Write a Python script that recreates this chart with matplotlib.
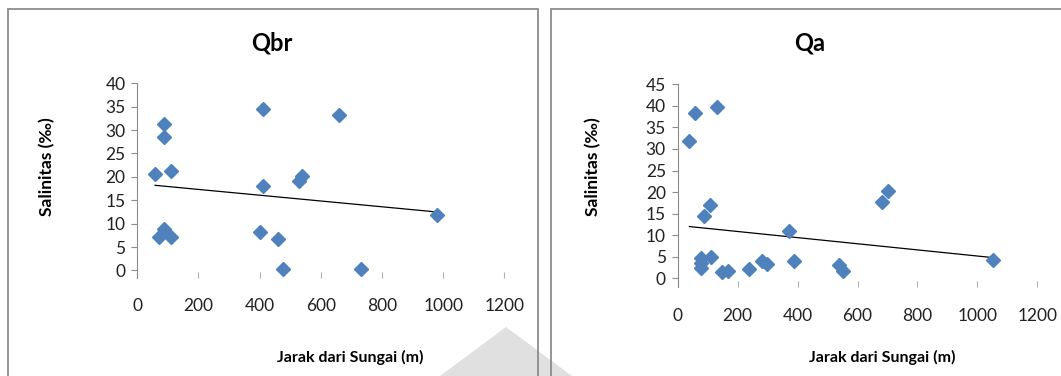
"""Salinitas vs jarak dari sungai, two Excel-style scatter panels (Qbr, Qa)."""

import matplotlib

matplotlib.use("Agg")
import matplotlib.pyplot as plt  # noqa: E402
from matplotlib.patches import Polygon, Rectangle  # noqa: E402

plt.rcParams["font.family"] = ["Lato", "DejaVu Sans"]

# Qbr panel
qbr_jarak = [58, 71, 88, 88, 88, 109, 109, 410, 410, 401, 461, 477, 528, 538, 659, 731, 980]
qbr_salinitas = [20.6, 7.1, 31.4, 28.6, 8.8, 21.2, 7.1, 34.6, 18.1, 8.3, 6.7, 0.3, 19.2, 20.2, 33.2, 0.3, 11.8]
qbr_trend_x = [58, 980]
qbr_trend_y = [18.2, 12.5]

# Qa panel
qa_jarak = [39, 59, 130, 78, 78, 78, 89, 108, 110, 149, 169, 239, 280, 299, 372, 388, 539, 550, 681, 701, 1051]
qa_salinitas = [31.9, 38.4, 39.8, 4.6, 3.5, 2.3, 14.5, 16.9, 5.0, 1.4, 1.8, 2.1, 4.0, 3.3, 11.0, 3.9, 3.1, 1.7, 17.6, 20.3, 4.2]
qa_trend_x = [39, 1051]
qa_trend_y = [12.0, 4.8]

x_ticks = [0, 200, 400, 600, 800, 1000, 1200]
qbr_y_ticks = [0, 5, 10, 15, 20, 25, 30, 35, 40]
qa_y_ticks = [0, 5, 10, 15, 20, 25, 30, 35, 40, 45]

BLUE = "#4f81bd"
FRAME_GRAY = "#8c8c8c"
W, H = 1061, 376


def _panel(fig, rect, x, y, tx, ty, yticks, ylim, title, title_x, ylabel_x, xlabel_x):
    ax = fig.add_axes(rect)
    ax.plot(x, y, linestyle="none", marker="D", markersize=7, color=BLUE, zorder=3)
    ax.plot(tx, ty, color="black", linewidth=0.9, zorder=2)
    ax.set_xlim(0, 1200)
    ax.set_ylim(*ylim)
    ax.set_xticks(x_ticks)
    ax.set_yticks(yticks)
    for side in ("top", "right", "bottom"):
        ax.spines[side].set_visible(False)
    ax.spines["left"].set_color(FRAME_GRAY)
    ax.spines["left"].set_linewidth(0.8)
    ax.tick_params(axis="y", direction="out", length=4.5, width=0.8, color=FRAME_GRAY, pad=4,
                   labelsize=12.5, labelcolor="#222222")
    ax.tick_params(axis="x", direction="in", length=4.5, width=0.8, color="#b0b0b0", pad=15,
                   labelsize=12.5, labelcolor="#222222")
    fig.text(title_x / W, 1 - 43 / H, title, ha="center", va="center", fontsize=17, fontweight="bold")
    fig.text(ylabel_x / W, 1 - 167 / H, "Salinitas (‰)", rotation=90, ha="center", va="center",
             fontsize=12.5, fontweight="bold")
    fig.text(xlabel_x / W, 1 - 357 / H, "Jarak dari Sungai (m)", ha="center", va="center",
             fontsize=11.5, fontweight="bold")
    return ax


fig = plt.figure(figsize=(W / 100, H / 100), dpi=100)

# panel frames and the faint watermark between them
fig.patches.append(Polygon([(506 / W, 1 - 327 / H), (440 / W, 0), (572 / W, 0)], closed=True,
                           transform=fig.transFigure, facecolor="#e0e0e0", edgecolor="none"))
fig.patches.append(Rectangle((8 / W, -0.02), (537.5 - 8) / W, 1 - 9 / H + 0.02, transform=fig.transFigure,
                             fill=False, edgecolor=FRAME_GRAY, linewidth=1.3))
fig.patches.append(Rectangle((551 / W, -0.02), (1080 - 551) / W, 1 - 9 / H + 0.02, transform=fig.transFigure,
                             fill=False, edgecolor=FRAME_GRAY, linewidth=1.3))

_panel(fig, [137.3 / W, 1 - 277.5 / H, (504.3 - 137.3) / W, (277.5 - 83.3) / H],
       qbr_jarak, qbr_salinitas, qbr_trend_x, qbr_trend_y, qbr_y_ticks, (-1.5, 40), "Qbr", 272, 47, 350)
_panel(fig, [677.7 / W, 1 - 286.9 / H, (1037.3 - 677.7) / W, (286.9 - 84.3) / H],
       qa_jarak, qa_salinitas, qa_trend_x, qa_trend_y, qa_y_ticks, (-2, 45), "Qa", 810, 593, 882)

fig.savefig("out.png", dpi=100)
plt.close(fig)
